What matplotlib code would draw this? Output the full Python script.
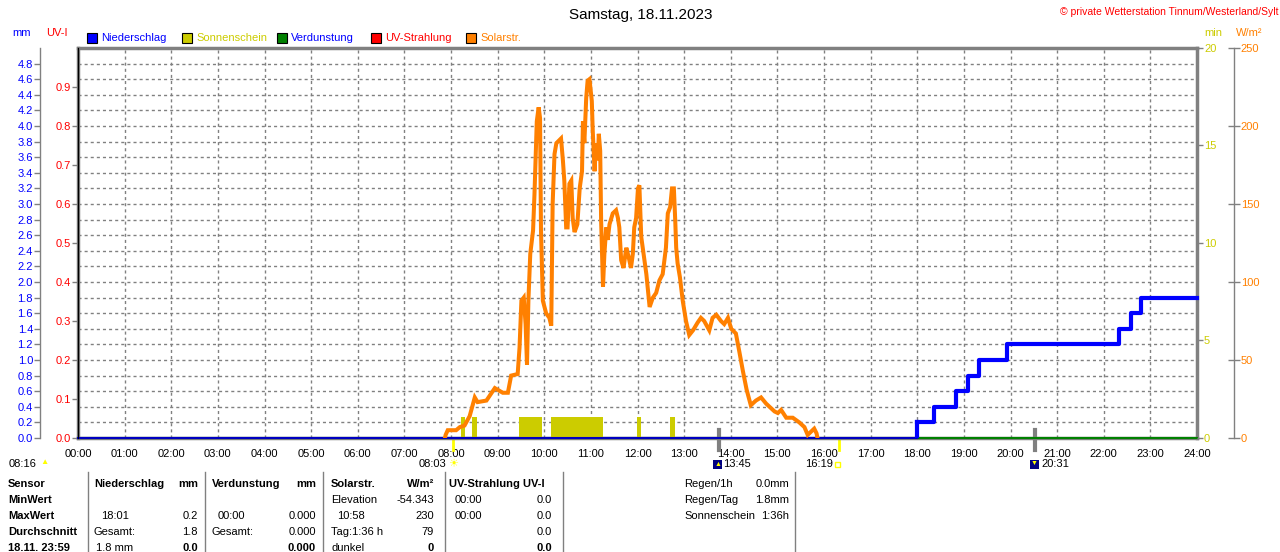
import numpy as np
import matplotlib
matplotlib.use("Agg")
import matplotlib.pyplot as plt
from matplotlib.patches import Rectangle
import matplotlib.transforms as mtransforms

plt.rcParams["font.family"] = ["Liberation Sans", "DejaVu Sans"]
plt.rcParams["font.size"] = 8

# ---------------- data ----------------
hours = list(range(25))
hour_labels = ["%02d:00" % h for h in hours]

# Solarstrahlung W/m2 (time in hours)
solar_t = [7.87, 7.885, 7.93, 8.11, 8.19, 8.29, 8.40, 8.51, 8.57, 8.76, 8.94, 9.11, 9.22,
           9.29, 9.43, 9.47, 9.51, 9.56, 9.60, 9.63, 9.66, 9.70, 9.76, 9.79, 9.84, 9.88,
           9.91, 9.93, 9.97, 10.04, 10.11, 10.15, 10.18, 10.22, 10.26, 10.36, 10.40, 10.43,
           10.47, 10.50, 10.54, 10.58, 10.61, 10.65, 10.71, 10.76, 10.81, 10.83, 10.86,
           10.90, 10.93, 10.97, 11.02, 11.04, 11.08, 11.11, 11.15, 11.17, 11.20, 11.22,
           11.26, 11.29, 11.33, 11.36, 11.40, 11.47, 11.54, 11.58, 11.61, 11.65, 11.70,
           11.76, 11.81, 11.86, 11.90, 11.93, 11.97, 12.01, 12.04, 12.08, 12.13, 12.19,
           12.26, 12.33, 12.40, 12.47, 12.54, 12.61, 12.65, 12.70, 12.74, 12.78, 12.81,
           12.83, 12.86, 12.91, 12.97, 13.04, 13.11, 13.19, 13.29, 13.36, 13.43, 13.54,
           13.61, 13.69, 13.79, 13.86, 13.94, 14.01, 14.11, 14.18, 14.26, 14.34, 14.43,
           14.54, 14.65, 14.76, 14.94, 15.01, 15.08, 15.19, 15.33, 15.47, 15.58, 15.65,
           15.72, 15.79, 15.84, 15.86]
solar_v = [0, 2, 5, 5, 7, 8, 14, 26, 23, 24, 32, 29, 29,
           40, 41, 58, 88, 90, 73, 47, 88, 118, 133, 156, 203, 212,
           205, 133, 88, 80, 77, 72, 150, 182, 189, 192, 178, 165,
           135, 135, 163, 165, 141, 132, 137, 160, 171, 203, 189,
           218, 229, 230, 216, 197, 171, 189, 178, 195, 184, 139,
           97, 118, 135, 127, 137, 144, 146, 141, 135, 114, 109,
           122, 116, 109, 118, 135, 141, 160, 162, 129, 118, 105,
           84, 90, 93, 101, 105, 122, 144, 148, 160, 160, 139,
           122, 112, 103, 88, 75, 66, 69, 74, 77, 75, 69,
           77, 79, 75, 73, 77, 70, 67, 56, 43, 31, 21,
           24, 26, 22, 17, 16, 18, 13, 13, 10, 7, 2,
           4, 6, 3, 0]

# Niederschlag (cumulative mm), step changes
rain_t = [0.0, 17.99, 18.36, 18.84, 19.09, 19.33, 19.93, 22.32, 22.58, 22.80, 24.0]
rain_v = [0.0, 0.2, 0.4, 0.6, 0.8, 1.0, 1.2, 1.4, 1.6, 1.8, 1.8]

# Sonnenschein (min), intervals
sun_start = [8.22, 8.45, 9.46, 10.15, 11.99, 12.70]
sun_end = [8.31, 8.56, 9.96, 11.26, 12.08, 12.81]
sun_min = 1.1

# Verdunstung
evap_t = [0, 24]
evap_v = [0, 0]

# sun / moon events
sunrise, sunset = 8 + 3 / 60, 16 + 19 / 60
moonrise, moonset = 13 + 45 / 60, 20 + 31 / 60

# ---------------- colours ----------------
c_blue = "#0000FF"
c_yel = "#CCCC00"
c_green = "#008000"
c_red = "#FF0000"
c_orange = "#FF8000"
c_grey = "#808080"

W, H = 1280, 552
fig = plt.figure(figsize=(W / 100, H / 100), dpi=100)


def px(x, y):
    return x / W, 1 - y / H


x0, x1, y0, y1 = 78, 1197, 48, 438
ax = fig.add_axes([x0 / W, 1 - y1 / H, (x1 - x0) / W, (y1 - y0) / H])

# mm axis (outer left)
ax.set_xlim(0, 24)
ax.set_ylim(0, 5.0)
ax.set_yticks(np.arange(0, 4.81, 0.2))
ax.set_yticklabels(["%.1f" % v for v in np.arange(0, 4.81, 0.2)])
ax.tick_params(axis="y", colors=c_grey, labelcolor=c_blue, length=4, width=1, pad=1, labelsize=8)
ax.spines["left"].set_position(("outward", 27.4))
ax.spines["left"].set_color(c_grey)
ax.spines["left"].set_linewidth(1)
for s in ["top", "right", "bottom"]:
    ax.spines[s].set_color(c_grey)
    ax.spines[s].set_linewidth(2.5)
ax.set_xticks(hours)
ax.set_xticklabels(hour_labels)
ax.tick_params(axis="x", length=0, pad=8, labelsize=8)
ax.grid(True, color=c_grey, linestyle=(0, (2.2, 2.2)), linewidth=1)

# UV axis (frame left)
ax_uv = ax.twinx()
ax_uv.set_ylim(0, 1.0)
ax_uv.yaxis.tick_left()
ax_uv.spines["left"].set_visible(True)
ax_uv.spines["left"].set_color(c_grey)
ax_uv.spines["left"].set_linewidth(2.5)
ax_uv.spines["right"].set_visible(False)
ax_uv.set_yticks(np.arange(0, 0.91, 0.1))
ax_uv.set_yticklabels(["%.1f" % v for v in np.arange(0, 0.91, 0.1)])
ax_uv.tick_params(axis="y", colors=c_grey, labelcolor=c_red, length=4, width=1, pad=1, labelsize=8)

# minutes (frame right)
ax_min = ax.twinx()
ax_min.set_ylim(0, 20)
ax_min.set_yticks([0, 5, 10, 15, 20])
ax_min.spines["right"].set_visible(False)
ax_min.tick_params(axis="y", colors=c_grey, labelcolor=c_yel, length=4, width=1, pad=1, labelsize=8)

# W/m2 (outer right)
ax_w = ax.twinx()
ax_w.set_ylim(0, 250)
ax_w.set_yticks([0, 50, 100, 150, 200, 250])
ax_w.spines["right"].set_position(("outward", 26.6))
ax_w.spines["right"].set_color(c_grey)
ax_w.spines["right"].set_linewidth(1)
ax_w.tick_params(axis="y", direction="inout", colors=c_grey, labelcolor=c_orange,
                 length=8, width=1, pad=1, labelsize=8)
for a in [ax_uv, ax_min, ax_w]:
    a.spines["top"].set_visible(False)
    a.spines["bottom"].set_visible(False)

# data
ax_min.bar(sun_start, sun_min, width=np.array(sun_end) - np.array(sun_start),
           align="edge", color=c_yel, linewidth=0)
ax.plot(evap_t, evap_v, color=c_green, lw=1.5, clip_on=False, zorder=3)
k = rain_t.index(17.99)
ax_min.plot([rain_t[0], rain_t[k]], [0, 0], color="#0000C0", lw=1.5, clip_on=False, zorder=4)
ax_min.step(rain_t[k:], np.array(rain_v[k:]) * 4, where="post", color=c_blue, lw=3,
            clip_on=False, zorder=4)
ax_min.plot([rain_t[k], rain_t[k]], [0, rain_v[k] * 4], color=c_blue, lw=3, zorder=4)
ax_w.plot(solar_t, solar_v, color=c_orange, lw=2.9, solid_joinstyle="miter")

# sun/moon event ticks below axis
trans = mtransforms.blended_transform_factory(ax.transData, ax.transAxes)
for t, col, lw in [(sunrise, "#FFFF00", 2), (sunset, "#FFFF00", 2),
                   (moonrise, c_grey, 3), (moonset, c_grey, 3)]:
    ax.plot([t, t], [-0.005, -0.03], color=col, lw=lw, transform=trans, clip_on=False)
    if col == c_grey:
        ax.plot([t, t], [0.0, 0.02], color=col, lw=lw, transform=trans, clip_on=False)

# event labels
fig.text(*px(9, 464), "08:16", fontsize=8, va="center")
fig.text(*px(44, 463), "\u25b2", fontsize=6, color="#FFFF00", va="center", ha="center")
fig.text(*px(419, 464), "08:03", fontsize=8, va="center")
fig.text(*px(453, 464), "\u2600", fontsize=8, color="#FFFF00", va="center", ha="center",
         family=["DejaVu Sans"])
fig.patches.append(Rectangle(px(713, 469), 9 / W, 9 / H, transform=fig.transFigure,
                             facecolor="#000080", edgecolor="none"))
fig.text(*px(718, 464), "\u25b2", fontsize=5, color="#FFFF00", va="center", ha="center")
fig.text(*px(723, 464), "13:45", fontsize=8, va="center")
fig.text(*px(805, 464), "16:19", fontsize=8, va="center")
fig.patches.append(Rectangle(px(835, 467), 5 / W, 5 / H, transform=fig.transFigure,
                             facecolor="none", edgecolor="#FFFF00", lw=1))
fig.patches.append(Rectangle(px(1030, 469), 9 / W, 9 / H, transform=fig.transFigure,
                             facecolor="#000080", edgecolor="none"))
fig.text(*px(1034, 463), "\u25bc", fontsize=5, color="#FFFF00", va="center", ha="center")
fig.text(*px(1041, 464), "20:31", fontsize=8, va="center")

# title / header
fig.text(*px(641, 15), "Samstag, 18.11.2023", fontsize=11, ha="center", va="center")
fig.text(*px(1278, 12), "\u00a9 private Wetterstation Tinnum/Westerland/Sylt", fontsize=7.5,
         color=c_red, ha="right", va="center")
fig.text(*px(22, 33), "mm", color=c_blue, fontsize=8, ha="center", va="center")
fig.text(*px(57, 33), "UV-I", color=c_red, fontsize=8, ha="center", va="center")
fig.text(*px(1213, 33), "min", color=c_yel, fontsize=8, ha="center", va="center")
fig.text(*px(1249, 33), "W/m\u00b2", color=c_orange, fontsize=8, ha="center", va="center")

legend = [("Niederschlag", c_blue, c_blue, 87), ("Sonnenschein", c_yel, c_yel, 182),
          ("Verdunstung", c_green, c_blue, 277), ("UV-Strahlung", c_red, c_red, 371),
          ("Solarstr.", c_orange, c_orange, 466)]
for name, fc, tc, lx in legend:
    fig.patches.append(Rectangle(px(lx, 43), 10 / W, 10 / H, transform=fig.transFigure,
                                 facecolor=fc, edgecolor="black", lw=0.8))
    fig.text(*px(lx + 14, 38), name, color=tc, fontsize=8, va="center")

# ---------------- table ----------------
rows_y = [484, 500, 516, 532, 548]
for sx in [88, 205, 323, 445, 563, 795]:
    fig.add_artist(plt.Line2D([sx / W, sx / W], [1 - 472 / H, 0], color=c_grey, lw=1))

bold = dict(fontsize=8, fontweight="bold", va="center")
norm = dict(fontsize=8, va="center")
for i, s in enumerate(["Sensor", "MinWert", "MaxWert", "Durchschnitt", "18.11. 23:59"]):
    fig.text(*px(8, rows_y[i]), s, **bold)

table = [
    # (x, row, text, align, bold)
    (94, 0, "Niederschlag", "left", True), (198, 0, "mm", "right", True),
    (101, 2, "18:01", "left", False), (198, 2, "0.2", "right", False),
    (94, 3, "Gesamt:", "left", False), (198, 3, "1.8", "right", False),
    (96, 4, "1.8 mm", "left", False), (198, 4, "0.0", "right", True),
    (212, 0, "Verdunstung", "left", True), (316, 0, "mm", "right", True),
    (218, 2, "00:00", "left", False), (316, 2, "0.000", "right", False),
    (212, 3, "Gesamt:", "left", False), (316, 3, "0.000", "right", False),
    (316, 4, "0.000", "right", True),
    (331, 0, "Solarstr.", "left", True), (434, 0, "W/m\u00b2", "right", True),
    (331, 1, "Elevation", "left", False), (434, 1, "-54.343", "right", False),
    (337, 2, "10:58", "left", False), (434, 2, "230", "right", False),
    (331, 3, "Tag:1:36 h", "left", False), (434, 3, "79", "right", False),
    (331, 4, "dunkel", "left", False), (434, 4, "0", "right", True),
    (449, 0, "UV-Strahlung UV-I", "left", True),
    (455, 1, "00:00", "left", False), (552, 1, "0.0", "right", False),
    (455, 2, "00:00", "left", False), (552, 2, "0.0", "right", False),
    (552, 3, "0.0", "right", False), (552, 4, "0.0", "right", True),
    (684, 0, "Regen/1h", "left", False), (789, 0, "0.0mm", "right", False),
    (684, 1, "Regen/Tag", "left", False), (789, 1, "1.8mm", "right", False),
    (684, 2, "Sonnenschein", "left", False), (789, 2, "1:36h", "right", False),
]
for tx, r, s, al, b in table:
    fig.text(*px(tx, rows_y[r]), s, ha=al, **(bold if b else norm))

fig.savefig("out.png", dpi=100)
